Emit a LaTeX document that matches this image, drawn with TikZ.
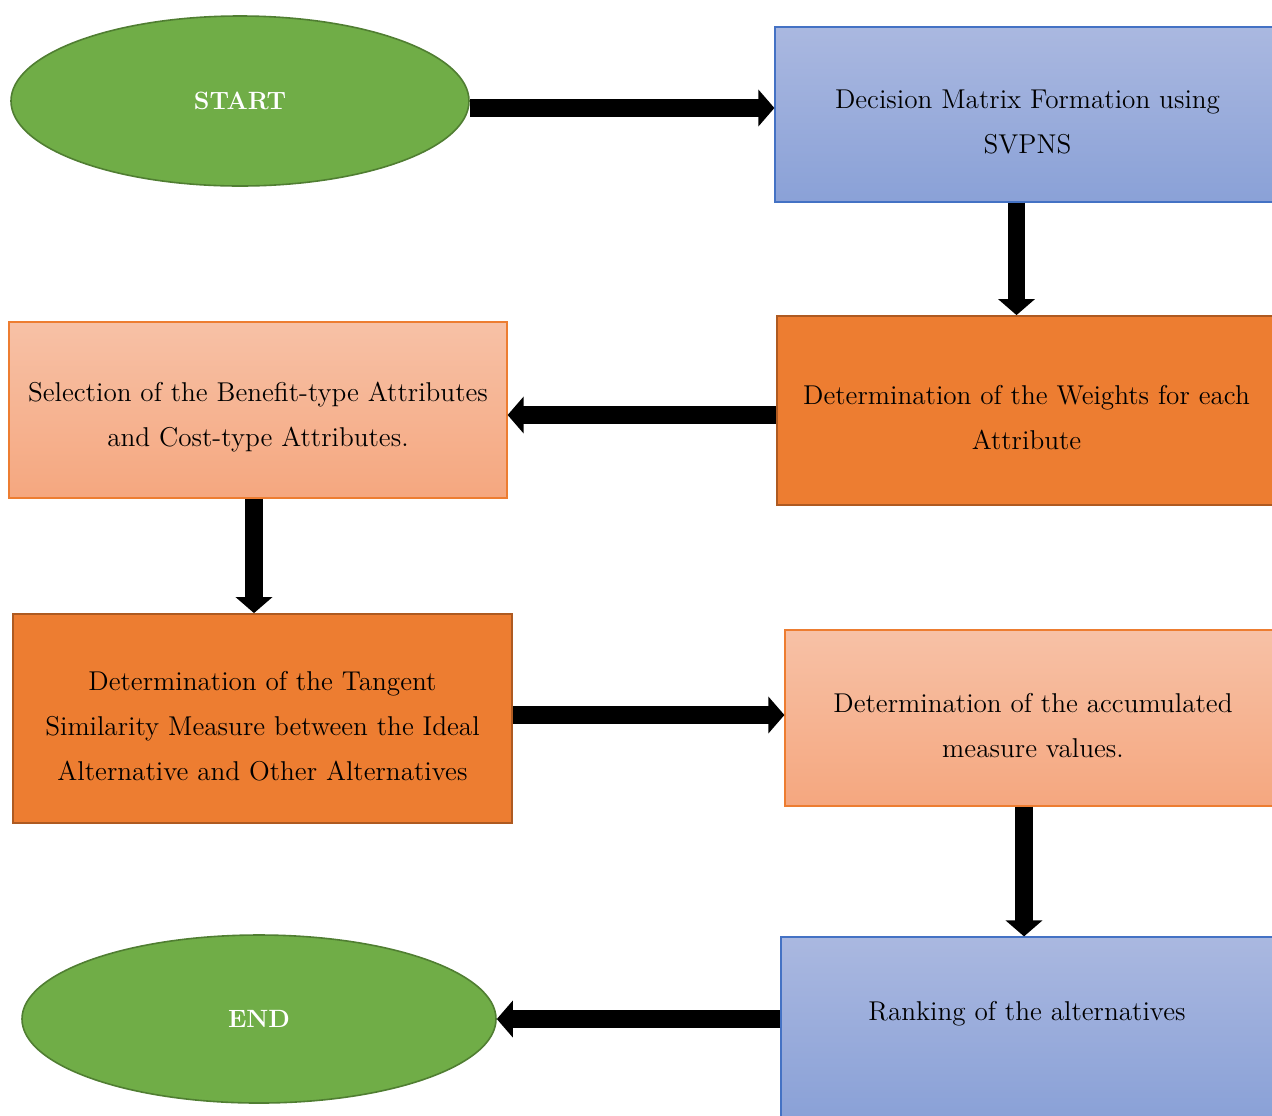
\documentclass[tikz,border=0pt]{standalone}
\usepackage{xcolor}
\usepackage{tikz}
\usetikzlibrary{shapes.geometric,arrows.meta}

\definecolor{greenfill}{RGB}{112,173,71}
\definecolor{greenline}{RGB}{80,126,50}
\definecolor{bluetop}{RGB}{170,184,224}
\definecolor{bluebot}{RGB}{138,161,215}
\definecolor{blueline}{RGB}{68,114,196}
\definecolor{peachtop}{RGB}{247,193,166}
\definecolor{peachbot}{RGB}{245,167,127}
\definecolor{orangefill}{RGB}{237,125,49}
\definecolor{orangeline}{RGB}{174,90,33}

\newcommand{\firstline}{\rule{0pt}{17pt}}

\begin{document}
\begin{tikzpicture}[x=0.5pt,y=0.5pt,yscale=-1,xscale=1,
  every node/.style={font=\fontsize{13.6}{22.5}\selectfont, align=center, inner sep=0pt},
  terminal/.style={ellipse, draw=greenline, line width=0.8pt, fill=greenfill, text=white, font=\fontsize{12.5}{14}\selectfont\bfseries},
  bluebox/.style={rectangle, draw=blueline, line width=0.6pt, top color=bluetop, bottom color=bluebot},
  peachbox/.style={rectangle, draw=orangefill, line width=0.6pt, top color=peachtop, bottom color=peachbot},
  orangebox/.style={rectangle, draw=orangeline, line width=0.9pt, fill=orangefill},
  flow/.style={line width=8.8pt, -{Triangle[width=18pt,length=8pt]}}
  ]
  \useasboundingbox (0,0) rectangle (1272,1115);
  \clip (0,0) rectangle (1272,1115);

  %Shape: Ellipse [start]
  \node [terminal, minimum width=229pt, minimum height=85pt] (start) at (240,101) {START};
  %Shape: Rectangle [decision matrix]
  \node [bluebox, minimum width=252.5pt, minimum height=87.5pt] (dmf) at (1027.5,114.5) {\firstline Decision Matrix Formation using\\SVPNS};
  %Shape: Rectangle [weights]
  \node [orangebox, minimum width=249.5pt, minimum height=94.5pt] (dw) at (1026.5,410.5) {\firstline Determination of the Weights for each\\Attribute};
  %Shape: Rectangle [selection]
  \node [peachbox, minimum width=249pt, minimum height=88pt] (sel) at (258,410) {\firstline Selection of the Benefit-type Attributes\\and Cost-type Attributes.};
  %Shape: Rectangle [tangent similarity]
  \node [orangebox, minimum width=249.5pt, minimum height=104.5pt] (ts) at (262.5,718.5) {\firstline Determination of the Tangent\\Similarity Measure between the Ideal\\Alternative and Other Alternatives};
  %Shape: Rectangle [accumulated]
  \node [peachbox, minimum width=248pt, minimum height=88pt] (acc) at (1033,718) {\firstline Determination of the accumulated\\measure values.};
  %Shape: Rectangle [ranking]
  \node [bluebox, minimum width=246pt, minimum height=90pt, text depth=16pt] (rank) at (1027,1027) {Ranking of the alternatives};
  %Shape: Ellipse [end]
  \node [terminal, minimum width=237pt, minimum height=84pt] (end) at (259,1019) {END};

  %Straight Lines [arrows]
  \draw [flow] ([yshift=3.5pt]start.east) -- ([yshift=3.5pt]start.east -| dmf.west);
  \draw [flow] ([xshift=-5.5pt]dmf.south) -- ([xshift=-5.5pt]dmf.south |- dw.north);
  \draw [flow] ([yshift=2.25pt]dw.west) -- ([yshift=2.25pt]dw.west -| sel.east);
  \draw [flow] ([xshift=-2pt]sel.south) -- ([xshift=-2pt]sel.south |- ts.north);
  \draw [flow] ([yshift=-1.75pt]ts.east) -- ([yshift=-1.75pt]ts.east -| acc.west);
  \draw [flow] ([xshift=-4.5pt]acc.south) -- ([xshift=-4.5pt]acc.south |- rank.north);
  \draw [flow] (end.east -| rank.west) -- (end.east);

\end{tikzpicture}
\end{document}
